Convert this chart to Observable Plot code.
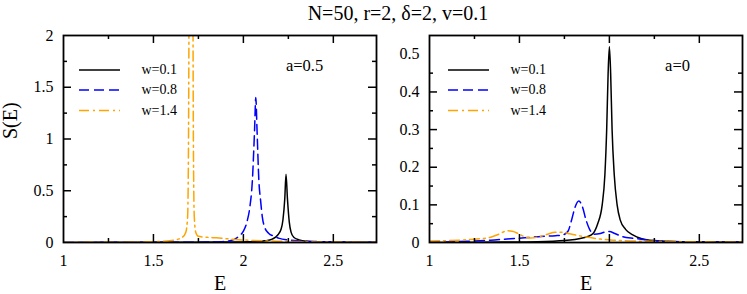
<!DOCTYPE html>
<html><head><meta charset="utf-8">
<script src="https://cdn.jsdelivr.net/npm/d3@7"></script>
<script src="https://cdn.jsdelivr.net/npm/@observablehq/plot@0.6"></script>
<style>
body{margin:0;background:#fff;font-family:"Liberation Serif",serif;}
#wrap{position:relative;width:747px;height:294px;overflow:hidden;background:#fff}
#title{position:absolute;top:0;left:248px;width:300px;text-align:center;font-size:20px;line-height:26px;color:#000;white-space:nowrap}
#row{position:absolute;top:24px;left:0;display:flex}
svg, svg text, svg g {font-family:"Liberation Serif",serif !important;}
</style></head><body>
<div id="wrap"><div id="title">N=50, r=2, δ=2, v=0.1</div><div id="row"></div></div>
<script>
// ---- data ----
const title = "N=50, r=2, δ=2, v=0.1";
const seriesNames = ["w=0.1", "w=0.8", "w=1.4"];
const panelLabels = ["a=0.5", "a=0"];
const xTicks = [1, 1.5, 2, 2.5];
const xMinorTicks = [1.25, 1.75, 2.25];
const yTicksLeft = [0, 0.5, 1, 1.5, 2];
const yMinorLeft = [0.25, 0.75, 1.25, 1.75];
const yTicksRight = [0, 0.1, 0.2, 0.3, 0.4, 0.5];
const yMinorRight = [0.05, 0.15, 0.25, 0.35, 0.45];

// a=0.5 panel
const E_a05_w01 = [1.0, 1.6, 1.9, 2.0, 2.08, 2.12, 2.16, 2.19, 2.21, 2.22, 2.23, 2.237, 2.245, 2.255, 2.265, 2.28, 2.31, 2.35, 2.45, 2.6, 2.74];
const S_a05_w01 = [0.001, 0.002, 0.004, 0.006, 0.01, 0.016, 0.033, 0.07, 0.13, 0.22, 0.42, 0.66, 0.42, 0.2, 0.1, 0.05, 0.025, 0.012, 0.005, 0.003, 0.002];
const E_a05_w08 = [1.0, 1.5, 1.8, 1.88, 1.92, 1.95, 1.975, 2.0, 2.02, 2.035, 2.05, 2.062, 2.069, 2.076, 2.086, 2.096, 2.105, 2.12, 2.14, 2.17, 2.2, 2.25, 2.3, 2.4, 2.55, 2.74];
const S_a05_w08 = [0.001, 0.002, 0.004, 0.008, 0.015, 0.03, 0.06, 0.11, 0.2, 0.33, 0.6, 1.08, 1.4, 1.08, 0.6, 0.4, 0.25, 0.14, 0.09, 0.06, 0.04, 0.025, 0.016, 0.009, 0.005, 0.003];
const E_a05_w14 = [1.0, 1.3, 1.45, 1.55, 1.62, 1.66, 1.68, 1.69, 1.695, 1.7, 1.709, 1.718, 1.722, 1.727, 1.735, 1.75, 1.8, 1.85, 1.95, 2.05, 2.2, 2.4, 2.74];
const S_a05_w14 = [0.001, 0.003, 0.006, 0.012, 0.025, 0.05, 0.1, 0.25, 1.0, 3.5, 8, 3.5, 1.0, 0.25, 0.1, 0.06, 0.05, 0.045, 0.03, 0.02, 0.012, 0.006, 0.003];

// a=0 panel
const E_a0_w01 = [1.0, 1.4, 1.6, 1.75, 1.85, 1.9, 1.935, 1.96, 1.975, 1.985, 1.993, 2.0, 2.007, 2.015, 2.027, 2.043, 2.06, 2.09, 2.13, 2.18, 2.25, 2.4, 2.74];
const S_a0_w01 = [0, 0.001, 0.002, 0.005, 0.012, 0.02, 0.05, 0.1, 0.18, 0.3, 0.45, 0.52, 0.45, 0.3, 0.18, 0.1, 0.06, 0.035, 0.02, 0.01, 0.005, 0.002, 0.001];
const E_a0_w08 = [1.0, 1.2, 1.34, 1.45, 1.55, 1.62, 1.7, 1.74, 1.77, 1.79, 1.81, 1.83, 1.85, 1.87, 1.89, 1.915, 1.95, 1.975, 2.0, 2.03, 2.07, 2.14, 2.23, 2.32, 2.5, 2.74];
const S_a0_w08 = [0.001, 0.003, 0.006, 0.01, 0.013, 0.016, 0.018, 0.02, 0.03, 0.06, 0.095, 0.11, 0.095, 0.06, 0.035, 0.022, 0.024, 0.028, 0.029, 0.024, 0.016, 0.011, 0.006, 0.003, 0.001, 0.001];
const E_a0_w14 = [1.0, 1.1, 1.2, 1.28, 1.34, 1.39, 1.43, 1.46, 1.5, 1.53, 1.56, 1.6, 1.65, 1.7, 1.74, 1.78, 1.83, 1.88, 1.95, 2.03, 2.12, 2.25, 2.45, 2.74];
const S_a0_w14 = [0.004, 0.005, 0.007, 0.01, 0.014, 0.023, 0.031, 0.03, 0.022, 0.015, 0.012, 0.014, 0.021, 0.027, 0.027, 0.023, 0.018, 0.014, 0.009, 0.006, 0.004, 0.003, 0.002, 0.001];

// ---- styling ----
const styles = [
  {stroke: "#000000", dash: null},
  {stroke: "#0000ff", dash: "10,5"},
  {stroke: "#ffa500", dash: "10,4,2,4"}
];
const FONT = "'Liberation Serif', serif";
const H = 207;

function toRows(E, S) { return E.map((e, i) => ({E: e, S: S[i]})); }

function panel(o) {
  const W = o.width - o.marginLeft - o.marginRight;
  const yMax = o.yMax;
  const marks = [];
  o.curves.forEach((c, i) => {
    marks.push(Plot.line(toRows(c[0], c[1]), {
      x: "E", y: "S", stroke: styles[i].stroke, strokeWidth: 1.5,
      strokeDasharray: styles[i].dash, curve: "monotone-x", clip: true
    }));
  });
  const legOff = [34.5, 54.5, 75];
  seriesNames.forEach((name, i) => {
    const yv = yMax * (1 - legOff[i] / H);
    marks.push(Plot.ruleY([yv], {y: d => d, insetLeft: o.legX1, insetRight: W - o.legX2,
      stroke: styles[i].stroke, strokeWidth: 1.5, strokeDasharray: styles[i].dash}));
    marks.push(Plot.text([yv], {y: d => d, text: () => name, frameAnchor: "left", dx: o.legText,
      textAnchor: "start", lineAnchor: "middle", fontSize: 14, fontFamily: FONT, fill: "black"}));
  });
  const tk = (arr, len, sw) => [
    Plot.tickX(arr, {x: d => d, insetTop: H - len, stroke: "black", strokeWidth: sw}),
    Plot.tickX(arr, {x: d => d, insetBottom: H - len, stroke: "black", strokeWidth: sw})
  ];
  const tky = (arr, len, sw) => [
    Plot.tickY(arr, {y: d => d, insetRight: W - len, stroke: "black", strokeWidth: sw}),
    Plot.tickY(arr, {y: d => d, insetLeft: W - len, stroke: "black", strokeWidth: sw})
  ];
  marks.push(...tk(xTicks.slice(1), 8, 1.5), ...tk(xMinorTicks, 4, 1.5));
  marks.push(...tky(o.yTicks.slice(1, -1), 8, 1.5), ...tky(o.yMinor, 4, 1.5));
  marks.push(Plot.frame({stroke: "black", strokeWidth: 1.8}));
  marks.push(Plot.text([o.label], {frameAnchor: "top-right", dx: -o.labelDx, dy: 30,
    textAnchor: "middle", lineAnchor: "middle", fontSize: 16.5, fontFamily: FONT, fill: "black"}));
  marks.push(Plot.text(["E"], {frameAnchor: "bottom", dy: 41, lineAnchor: "middle", fontSize: 20, fontFamily: FONT, fill: "black"}));
  if (o.yLabel) marks.push(Plot.text([o.yLabel], {frameAnchor: "left", dx: -53, rotate: -90,
    lineAnchor: "middle", fontSize: 20, fontFamily: FONT, fill: "black"}));
  return Plot.plot({
    width: o.width, height: 270, marginTop: 11, marginBottom: 52,
    marginLeft: o.marginLeft, marginRight: o.marginRight,
    x: {domain: [1, 2.74], ticks: xTicks, tickSize: 0, tickPadding: 12, tickFormat: d => String(d), label: null},
    y: {domain: [0, yMax], ticks: o.yTicks, tickSize: 0, tickPadding: 10, tickFormat: d => String(d), label: null},
    style: {fontFamily: FONT, fontSize: "16px", background: "white", color: "black", overflow: "visible"},
    marks
  });
}

document.getElementById("title").textContent = title;
const row = document.getElementById("row");
row.append(panel({
  width: 380, marginLeft: 63, marginRight: 4, yMax: 2,
  yTicks: yTicksLeft, yMinor: yMinorLeft, label: panelLabels[0], labelDx: 72,
  legX1: 16, legX2: 57, legText: 78, yLabel: "S(E)",
  curves: [[E_a05_w01, S_a05_w01], [E_a05_w08, S_a05_w08], [E_a05_w14, S_a05_w14]]
}));
row.append(panel({
  width: 367, marginLeft: 49, marginRight: 5, yMax: 0.55,
  yTicks: yTicksRight, yMinor: yMinorRight, label: panelLabels[1], labelDx: 65,
  legX1: 19, legX2: 60, legText: 81, yLabel: null,
  curves: [[E_a0_w01, S_a0_w01], [E_a0_w08, S_a0_w08], [E_a0_w14, S_a0_w14]]
}));
</script>
</body></html>
